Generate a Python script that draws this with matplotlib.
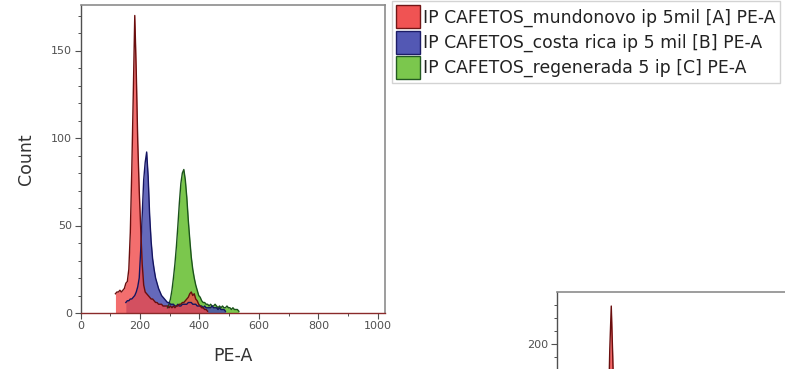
import numpy as np
import matplotlib
matplotlib.use("Agg")
import matplotlib.pyplot as plt
from matplotlib.patches import Patch

BIN_W = 5

# Sample A: mundonovo (counts per 5-channel bin starting at 115)
a_start = 115
a_counts = [11, 12, 12, 13, 12, 13, 14,
            17, 18, 25, 46, 82, 125, 170, 138, 98, 70, 48, 28,
            16, 12, 11, 10, 9, 8, 8, 7, 6, 6, 5, 5, 5, 4, 4, 4, 4, 3, 4, 3,
            4, 3, 4, 4, 5, 5, 6, 6, 7, 8, 9, 11, 12, 10, 11, 8, 7, 5, 4, 3,
            3, 2, 2, 1]

# Sample B: costa rica (starting at 150)
b_start = 150
b_counts = [6, 7, 7, 8, 8, 9, 10, 12, 15, 20, 36, 56, 76, 86, 92, 78, 56, 41,
            31, 25, 20, 17, 14, 12, 10, 9, 8, 7, 6, 6, 5, 5, 5, 4, 4, 5, 4, 4,
            5, 5, 5, 5, 6, 6, 6, 5, 5, 5, 4, 4, 4, 4, 3, 4, 3, 3, 3, 3, 4, 3,
            3, 3, 2, 3, 2, 2, 2, 1]

# Sample C: regenerada (starting at 290)
c_start = 290
c_counts = [3, 5, 8, 13, 20, 28, 38, 50, 63, 74, 80, 82, 76, 66, 53, 42, 32,
            25, 20, 16, 13, 10, 9, 7, 6, 6, 5, 5, 4, 5, 4, 4, 5, 4, 3, 4, 3,
            4, 3, 3, 4, 3, 3, 2, 3, 2, 2, 2, 1]

# Second panel (partially shown): sample A peak
d_start = 165
d_counts = [20, 60, 190, 273, 175, 60, 25]

labels = ["IP CAFETOS_mundonovo ip 5mil [A] PE-A",
          "IP CAFETOS_costa rica ip 5 mil [B] PE-A",
          "IP CAFETOS_regenerada 5 ip [C] PE-A"]

fill_cols = ["#f04a4a", "#4a4fb0", "#74c443"]
edge_cols = ["#6a0e0e", "#141460", "#1b531b"]

W, H = 785, 369
fig = plt.figure(figsize=(W / 100, H / 100), dpi=100)

def px_rect(x0, y0, x1, y1):
    return [x0 / W, 1 - y1 / H, (x1 - x0) / W, (y1 - y0) / H]

def draw_hist(ax, start, counts, fc, ec, alpha):
    centers = start + BIN_W * (np.arange(len(counts)) + 0.5)
    ax.fill_between(centers, counts, 0, color=fc, alpha=alpha, lw=0,
                    zorder=2)
    ax.plot(centers, counts, color=ec, lw=1.0, zorder=3)

def style_axes(ax, ymajor, yminor):
    for s in ["top", "right"]:
        ax.spines[s].set_color("#8c8c8c")
        ax.spines[s].set_linewidth(1.2)
    ax.spines["left"].set_color("#505050")
    ax.spines["left"].set_linewidth(1.0)
    ax.spines["bottom"].set_color("#8a2a2a")
    ax.spines["bottom"].set_linewidth(1.0)
    ax.set_yticks(ymajor)
    ax.set_yticks(yminor, minor=True)
    ax.tick_params(axis="both", which="major", direction="out", length=4,
                   width=0.8, color="#505050", labelsize=8,
                   labelcolor="#505050", pad=2)
    ax.tick_params(axis="both", which="minor", direction="out", length=2.5,
                   width=0.7, color="#505050")

# Main histogram overlay
ax = fig.add_axes(px_rect(80.5, 5, 385, 313))
draw_hist(ax, c_start, c_counts, fill_cols[2], edge_cols[2], 0.95)
draw_hist(ax, b_start, b_counts, fill_cols[1], edge_cols[1], 0.85)
draw_hist(ax, a_start, a_counts, fill_cols[0], edge_cols[0], 0.8)
ax.set_xlim(0, 1024)
ax.set_ylim(0, 176)
style_axes(ax, [0, 50, 100, 150], np.arange(0, 176, 10))
ax.set_xticks([0, 200, 400, 600, 800, 1000])
ax.set_xticks(np.arange(100, 1001, 200), minor=True)
ax.set_xlabel("PE-A", fontsize=12.5, color="#333333", labelpad=11)
ax.set_ylabel("Count", fontsize=12.5, color="#333333", labelpad=12)

handles = [Patch(facecolor=f, edgecolor=e, lw=1.0, alpha=0.95)
           for f, e in zip(fill_cols, edge_cols)]
leg = fig.legend(handles, labels, loc="upper left",
                 bbox_to_anchor=(392 / W, 1 - 1 / H), fontsize=12.4,
                 handlelength=1.35, handleheight=1.69, handletextpad=0.2,
                 labelspacing=0.12, borderpad=0.25, borderaxespad=0,
                 frameon=True, fancybox=False)
leg.get_frame().set_edgecolor("#c8c8c8")
leg.get_frame().set_linewidth(1.0)
for t in leg.get_texts():
    t.set_color("#222222")

# Second panel, cut by the figure edge
ax2 = fig.add_axes(px_rect(557, 292, 557 + 304.5, 292 + 156))
draw_hist(ax2, d_start, d_counts, fill_cols[0], edge_cols[0], 0.85)
ax2.set_xlim(0, 1024)
ax2.set_ylim(0, 300)
style_axes(ax2, [200], np.arange(125, 300, 25))
ax2.set_xticks([])

fig.savefig("out.png", dpi=100)
